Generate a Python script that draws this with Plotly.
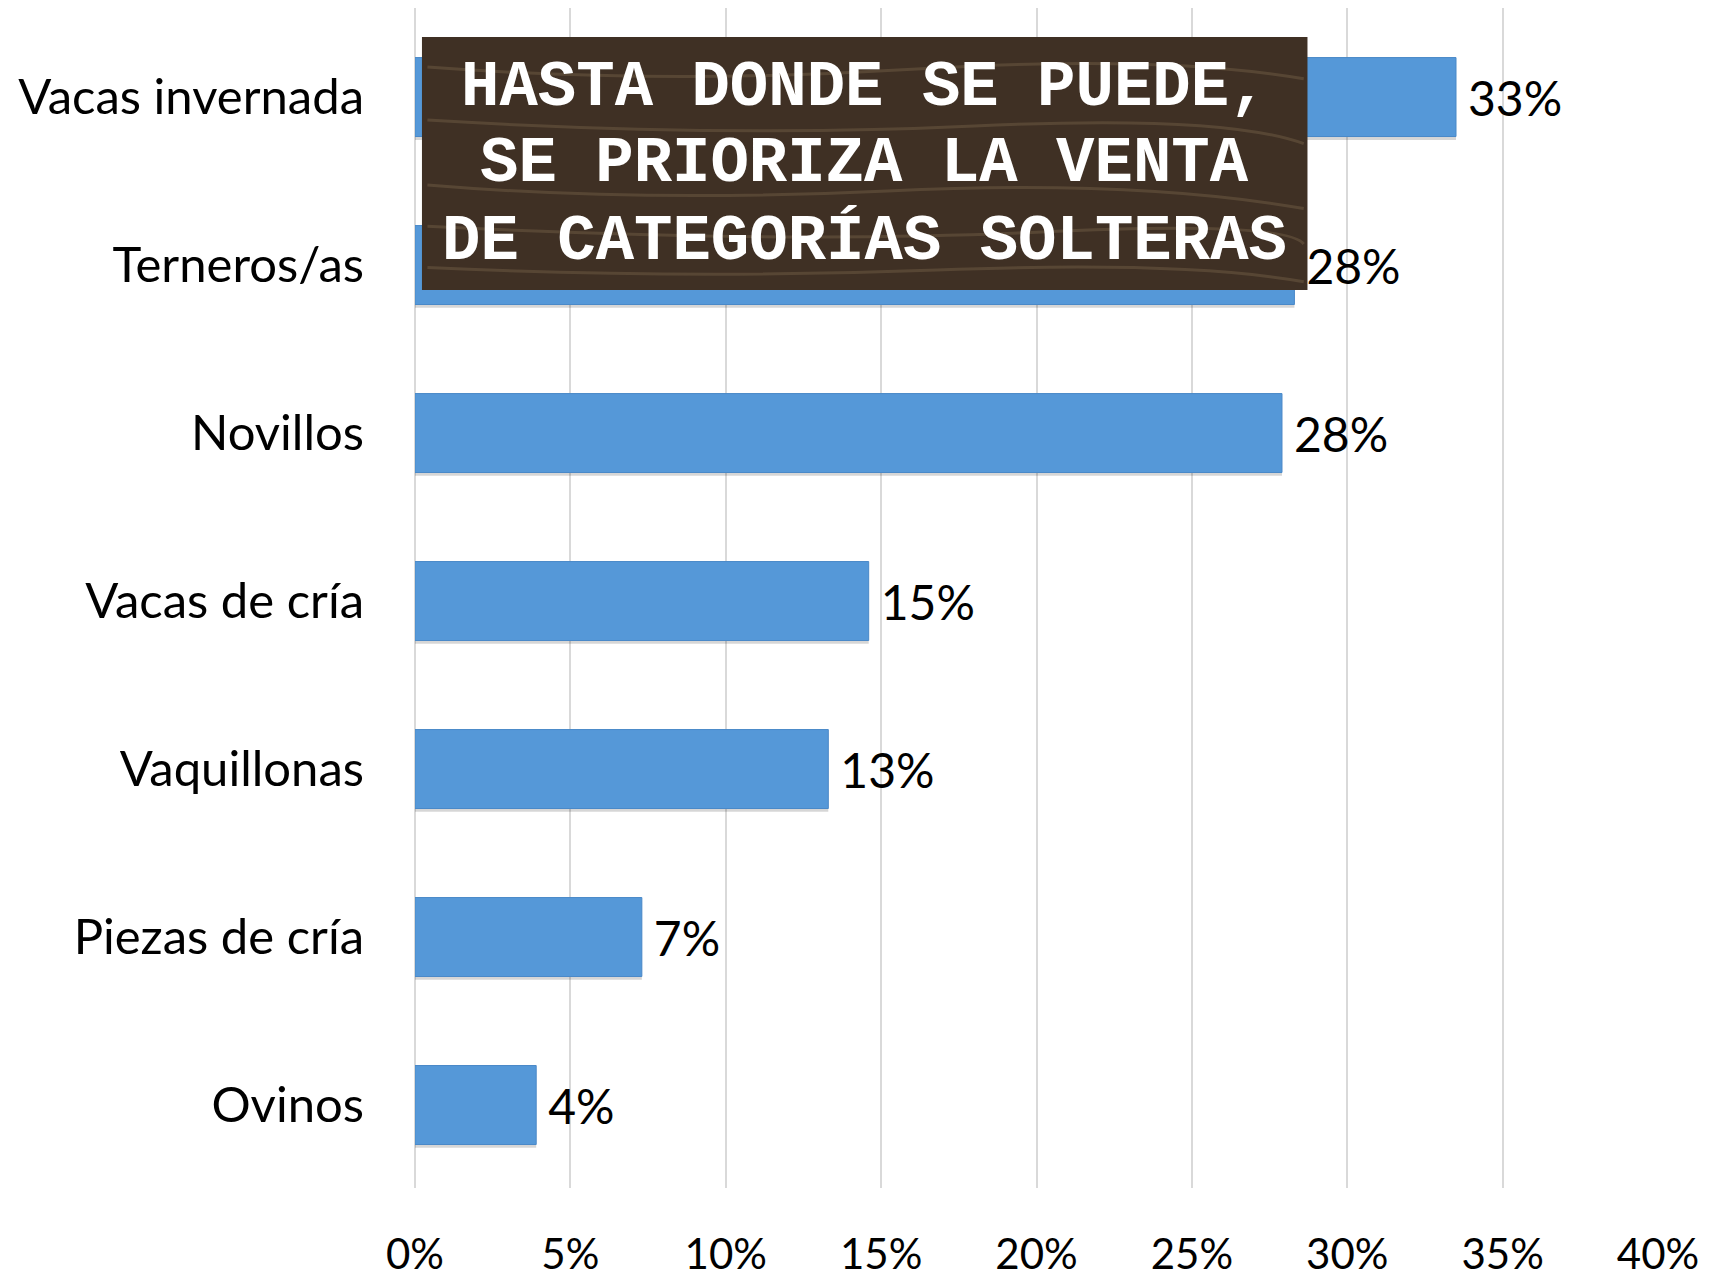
import plotly.graph_objects as go

categorias = ['Vacas invernada', 'Terneros/as', 'Novillos', 'Vacas de cría',
              'Vaquillonas', 'Piezas de cría', 'Ovinos']
valores = [0.335, 0.283, 0.279, 0.146, 0.133, 0.073, 0.039]
etiquetas = ['33%', '28%', '28%', '15%', '13%', '7%', '4%']
ticks_x = [0, 0.05, 0.10, 0.15, 0.20, 0.25, 0.30, 0.35, 0.40]
ticks_x_txt = ['0%', '5%', '10%', '15%', '20%', '25%', '30%', '35%', '40%']

lineas_titulo = ['HASTA DONDE SE PUEDE,', 'SE PRIORIZA LA VENTA', 'DE CATEGORÍAS SOLTERAS']

fig = go.Figure()

# sombra suave bajo cada barra
fig.add_trace(go.Bar(
    y=categorias, x=valores, orientation='h',
    marker=dict(color='rgba(0,0,0,0.16)', line=dict(width=0)),
    width=0.47, offset=-0.215, hoverinfo='skip',
))
fig.add_trace(go.Bar(
    y=categorias, x=valores, orientation='h',
    text=['\u2009\u200a' + t for t in etiquetas], textposition='outside',
    textfont=dict(family='Lato, Open Sans, sans-serif', size=48, color='black'),
    marker=dict(color='#5598d8', line=dict(color='#4a89c8', width=1)),
    width=0.47, offset=-0.235, cliponaxis=False,
))

# vetas de madera del cartel
vetas = [
    'M 0.01,0.95 Q 0.2,0.935 0.4,0.948 T 0.715,0.94',
    'M 0.01,0.905 Q 0.25,0.89 0.45,0.9 T 0.715,0.885',
    'M 0.01,0.85 Q 0.18,0.835 0.38,0.845 T 0.715,0.83',
    'M 0.01,0.815 Q 0.3,0.80 0.5,0.81 T 0.715,0.80',
    'M 0.01,0.78 Q 0.22,0.77 0.42,0.778 T 0.715,0.768',
]
formas = [dict(type='rect', xref='paper', yref='paper',
               x0=0.0056, x1=0.718, y0=0.761, y1=0.9754,
               fillcolor='#3f3024', line=dict(width=0), layer='above')]
for v in vetas:
    formas.append(dict(type='path', path=v, xref='paper', yref='paper',
                       line=dict(color='rgba(200,170,130,0.18)', width=3),
                       layer='above'))

fig.update_layout(
    width=1709, height=1277,
    margin=dict(l=407, r=59, t=0, b=97),
    plot_bgcolor='white', paper_bgcolor='white',
    showlegend=False, barmode='overlay',
    font=dict(family='Lato, Open Sans, sans-serif', size=48, color='black'),
    xaxis=dict(range=[0, 0.40], tickvals=ticks_x, ticktext=ticks_x_txt,
               showgrid=True, gridcolor='#d9d9d9', gridwidth=2,
               zeroline=True, zerolinecolor='#d9d9d9', zerolinewidth=2,
               ticklabelstandoff=38, automargin=False,
               tickfont=dict(family='Liberation Sans Narrow, Lato, sans-serif', size=42)),
    yaxis=dict(categoryorder='array', categoryarray=categorias,
               range=[6.494, -0.53], showgrid=False, zeroline=False,
               ticklabelstandoff=50, automargin=False, tickfont=dict(size=49)),
    shapes=formas,
)

pos_y = [0.932, 0.8676, 0.8023]
for linea, yy in zip(lineas_titulo, pos_y):
    fig.add_annotation(text='<b>' + linea + '</b>', xref='paper', yref='paper',
                       x=0.362, y=yy, xanchor='center', yanchor='middle',
                       showarrow=False,
                       font=dict(family='Liberation Mono, Courier New, monospace',
                                 size=64, color='white'))

fig.write_html('out.html')
